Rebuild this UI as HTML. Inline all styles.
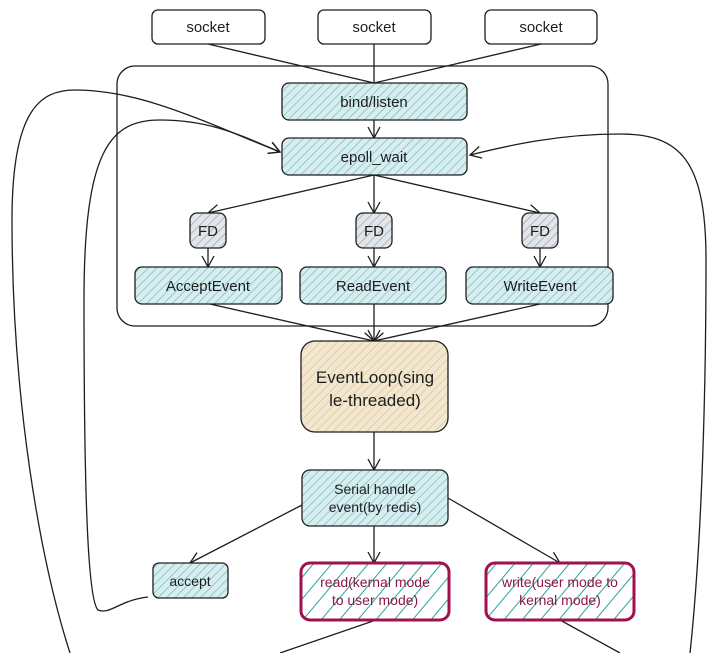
<!DOCTYPE html>
<html><head><meta charset="utf-8"><style>
html,body{margin:0;padding:0;background:#fff;}
svg{display:block}
text{font-family:"Liberation Sans",sans-serif;font-size:15px;fill:#1e1e1e;text-anchor:middle}
</style></head><body>
<svg width="720" height="653" viewBox="0 0 720 653" xmlns="http://www.w3.org/2000/svg">
<defs>
<pattern id="h" width="6" height="6" patternUnits="userSpaceOnUse" patternTransform="rotate(45)">
<rect width="6" height="6" fill="#d6eef0"/><line x1="0" y1="0" x2="0" y2="6" stroke="#7fb8bc" stroke-width="1.4"/></pattern>
<pattern id="g" width="6" height="6" patternUnits="userSpaceOnUse" patternTransform="rotate(45)">
<rect width="6" height="6" fill="#e2e6ea"/><line x1="0" y1="0" x2="0" y2="6" stroke="#9aa3ab" stroke-width="1.4"/></pattern>
<pattern id="y" width="6" height="6" patternUnits="userSpaceOnUse" patternTransform="rotate(45)">
<rect width="6" height="6" fill="#f3e8cf"/><line x1="0" y1="0" x2="0" y2="6" stroke="#d8c69e" stroke-width="1.4"/></pattern>
<pattern id="p" width="14" height="14" patternUnits="userSpaceOnUse" patternTransform="rotate(40)">
<rect width="14" height="14" fill="#fff"/><line x1="0" y1="0" x2="0" y2="14" stroke="#2aa3a0" stroke-width="2"/></pattern>
<marker id="a" markerWidth="14" markerHeight="14" refX="12" refY="7" orient="auto" markerUnits="userSpaceOnUse">
<path d="M1,1 L12,7 L1,13" fill="none" stroke="#1e1e1e" stroke-width="1.3"/></marker>
</defs>
<g fill="none" stroke="#1e1e1e" stroke-width="1.3">
<!-- curves -->
<path d="M70,653 C40,560 12,400 12,220 C12,110 40,90 75,90 C140,90 200,120 280,152" marker-end="url(#a)"/>
<path d="M148,597 C120,600 110,615 98,610 C88,600 84,500 84,300 C84,150 110,120 160,120 C210,120 240,135 280,152" marker-end="url(#a)"/>
<path d="M690,653 C700,560 706,420 706,260 C706,160 680,134 620,134 C560,134 510,145 470,155" marker-end="url(#a)"/>
<path d="M376,620 L280,653"/>
<path d="M560,620 L620,653"/>
<!-- top -->
<line x1="208" y1="44" x2="374" y2="83"/>
<line x1="374" y1="44" x2="374" y2="83"/>
<line x1="541" y1="44" x2="374" y2="83"/>
<line x1="374" y1="120" x2="374" y2="138" marker-end="url(#a)"/>
<line x1="374" y1="175" x2="208" y2="213" marker-end="url(#a)"/>
<line x1="374" y1="175" x2="374" y2="213" marker-end="url(#a)"/>
<line x1="374" y1="175" x2="540" y2="213" marker-end="url(#a)"/>
<line x1="208" y1="248" x2="208" y2="267" marker-end="url(#a)"/>
<line x1="374" y1="248" x2="374" y2="267" marker-end="url(#a)"/>
<line x1="540" y1="248" x2="540" y2="267" marker-end="url(#a)"/>
<line x1="210" y1="304" x2="374" y2="341" marker-end="url(#a)"/>
<line x1="374" y1="304" x2="374" y2="341" marker-end="url(#a)"/>
<line x1="540" y1="304" x2="374" y2="341" marker-end="url(#a)"/>
<line x1="374" y1="432" x2="374" y2="470" marker-end="url(#a)"/>
<line x1="302" y1="505" x2="190" y2="563" marker-end="url(#a)"/>
<line x1="374" y1="526" x2="374" y2="563" marker-end="url(#a)"/>
<line x1="448" y1="498" x2="560" y2="563" marker-end="url(#a)"/>
<!-- container -->
<rect x="117" y="66" width="491" height="260" rx="18"/>
</g>
<g stroke="#1e1e1e" stroke-width="1.3">
<rect x="152" y="10" width="113" height="34" rx="6" fill="#fff"/>
<rect x="318" y="10" width="113" height="34" rx="6" fill="#fff"/>
<rect x="485" y="10" width="112" height="34" rx="6" fill="#fff"/>
<rect x="282" y="83" width="185" height="37" rx="7" fill="url(#h)"/>
<rect x="282" y="138" width="185" height="37" rx="7" fill="url(#h)"/>
<rect x="190" y="213" width="36" height="35" rx="7" fill="url(#g)"/>
<rect x="356" y="213" width="36" height="35" rx="7" fill="url(#g)"/>
<rect x="522" y="213" width="36" height="35" rx="7" fill="url(#g)"/>
<rect x="135" y="267" width="147" height="37" rx="7" fill="url(#h)"/>
<rect x="300" y="267" width="146" height="37" rx="7" fill="url(#h)"/>
<rect x="466" y="267" width="147" height="37" rx="7" fill="url(#h)"/>
<rect x="301" y="341" width="147" height="91" rx="14" fill="url(#y)"/>
<rect x="302" y="470" width="146" height="56" rx="8" fill="url(#h)"/>
<rect x="153" y="563" width="75" height="35" rx="6" fill="url(#h)"/>
<rect x="301" y="563" width="148" height="57" rx="9" fill="url(#p)" stroke="#a0114f" stroke-width="3"/>
<rect x="486" y="563" width="148" height="57" rx="9" fill="url(#p)" stroke="#a0114f" stroke-width="3"/>
</g>
<text x="208" y="32">socket</text>
<text x="374" y="32">socket</text>
<text x="541" y="32">socket</text>
<text x="374" y="107">bind/listen</text>
<text x="374" y="162">epoll_wait</text>
<text x="208" y="236">FD</text>
<text x="374" y="236">FD</text>
<text x="540" y="236">FD</text>
<text x="208" y="291">AcceptEvent</text>
<text x="373" y="291">ReadEvent</text>
<text x="540" y="291">WriteEvent</text>
<text x="375" y="383" style="font-size:17px">EventLoop(sing</text>
<text x="375" y="406" style="font-size:17px">le-threaded)</text>
<text x="375" y="494" style="font-size:14px">Serial handle</text>
<text x="375" y="512" style="font-size:14px">event(by redis)</text>
<text x="190" y="586" style="font-size:14px">accept</text>
<text x="375" y="587" style="font-size:14px;fill:#8a1848">read(kernal mode</text>
<text x="375" y="605" style="font-size:14px;fill:#8a1848">to user mode)</text>
<text x="560" y="587" style="font-size:14px;fill:#8a1848">write(user mode to</text>
<text x="560" y="605" style="font-size:14px;fill:#8a1848">kernal mode)</text>
</svg>
</body></html>
